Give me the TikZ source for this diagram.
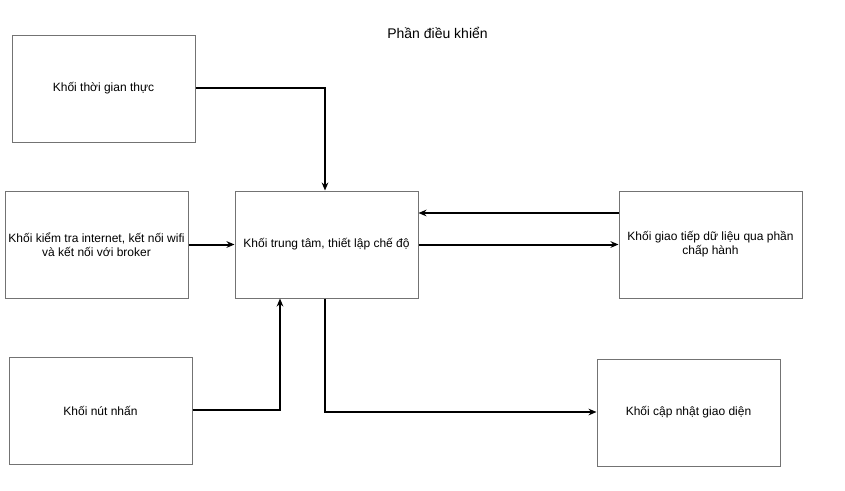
\documentclass[tikz,border=0pt]{standalone}
\usepackage{fontspec}
\setmainfont{Liberation Sans}
\usetikzlibrary{arrows.meta}
\begin{document}
\begin{tikzpicture}[x=0.75pt,y=-0.75pt,
  blk/.style={draw=black!55, line width=0.75pt, fill=white, minimum width=137.25pt, minimum height=80.25pt, align=center, inner sep=2pt, font=\fontsize{9pt}{10.5pt}\selectfont},
  conn/.style={draw=black, line width=1.5pt, -{Stealth[length=6pt,width=5pt]}}]
\useasboundingbox (0,0) rectangle (845,490);
\node[font=\fontsize{10.5pt}{12pt}\selectfont] (title) at (437.5,32.5) {Phần điều khiển};
\node[blk] (rt) at (103.5,88.5) {Khối thời gian thực};
\node[blk] (net) at (96.5,244.5) {Khối kiểm tra internet, kết nối wifi\\và kết nối với broker};
\node[blk] (ctr) at (326.5,244.5) {Khối trung tâm, thiết lập chế độ};
\node[blk] (io) at (710.5,244.5) {Khối giao tiếp dữ liệu qua phần\\chấp hành};
\node[blk] (btn) at (100.5,410.5) {Khối nút nhấn};
\node[blk] (ui) at (688.5,412.5) {Khối cập nhật giao diện};
\coordinate (rtc) at (325,88);
\coordinate (btc) at (280,410);
\coordinate (uic) at (325,412);
\draw[conn] (rt.east |- rtc) -- (rtc) -- (rtc |- ctr.north);
\draw[conn] (net.east) -- (ctr.west);
\draw[conn] (ctr.east) -- (io.west);
\draw[conn] (io.west |- 0,213) -- (ctr.east |- 0,213);
\draw[conn] (btn.east |- btc) -- (btc) -- (btc |- ctr.south);
\draw[conn] (uic |- ctr.south) -- (uic) -- (uic -| ui.west);
\end{tikzpicture}
\end{document}
